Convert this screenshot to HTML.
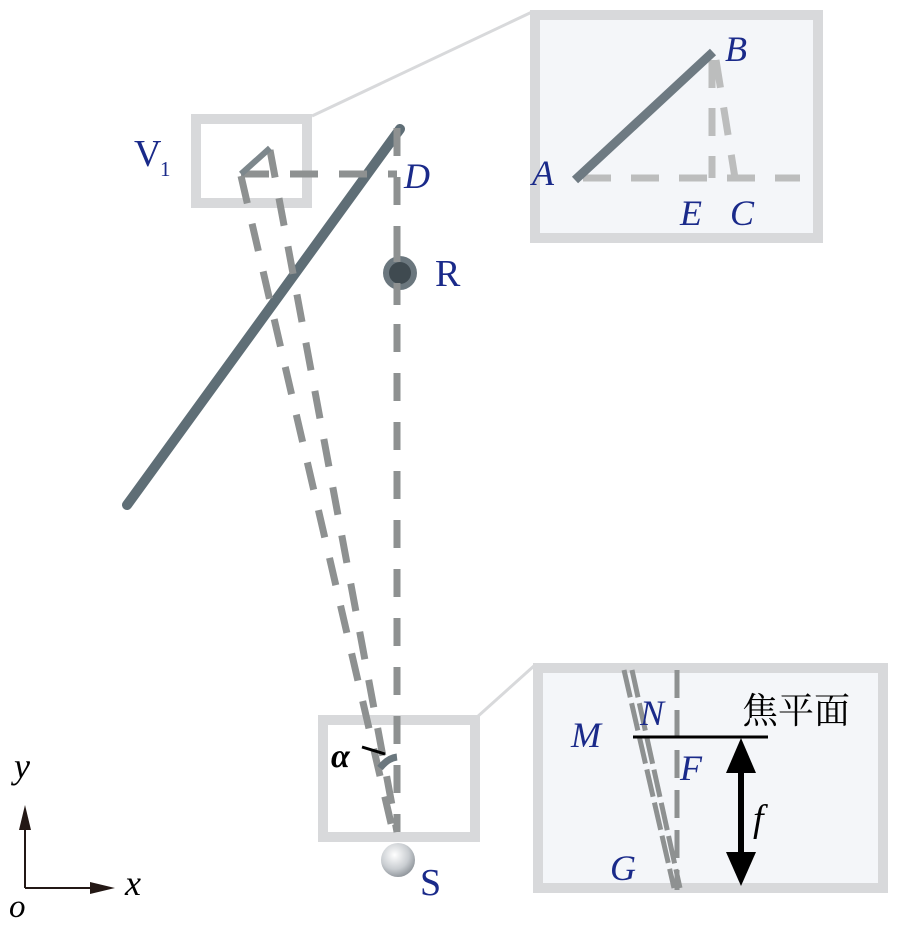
<!DOCTYPE html>
<html><head><meta charset="utf-8"><style>
html,body{margin:0;padding:0;background:#fff;width:900px;height:926px;overflow:hidden}
svg{display:block}
.lab{font-family:"Liberation Serif",serif;font-style:italic;fill:#1a2a8a;font-size:36px}
.labn{font-family:"Liberation Serif",serif;fill:#1a2a8a;font-size:38px}
</style></head><body>
<svg width="900" height="926" viewBox="0 0 900 926">
<defs>
<radialGradient id="sb" cx="0.4" cy="0.35" r="0.7"><stop offset="0" stop-color="#ffffff"/><stop offset="0.6" stop-color="#c9cdd1"/><stop offset="1" stop-color="#8a9096"/></radialGradient>
</defs>
<line x1="312" y1="116" x2="532" y2="12" stroke="#d8d9db" stroke-width="3"/>
<line x1="476" y1="718" x2="535" y2="665" stroke="#d8d9db" stroke-width="3"/>
<rect x="196" y="119" width="111" height="84" fill="none" stroke="#d8d9db" stroke-width="10"/>
<rect x="323" y="720" width="152" height="117" fill="none" stroke="#d8d9db" stroke-width="10"/>
<line x1="400" y1="129" x2="127" y2="505" stroke="#5f6e76" stroke-width="10" stroke-linecap="round"/>
<g stroke="#8e9191" stroke-width="7" fill="none" stroke-dasharray="28 21">
<line x1="397" y1="128" x2="397" y2="832"/>
<line x1="241" y1="174" x2="397" y2="174"/>
<line x1="241" y1="176" x2="393" y2="832"/>
<line x1="270" y1="150" x2="397" y2="832"/>
</g>
<line x1="241" y1="174" x2="270" y2="148" stroke="#7d878c" stroke-width="6"/>
<circle cx="400" cy="273" r="17" fill="#6b777e"/>
<circle cx="400" cy="273" r="11" fill="#3f4a50"/>
<line x1="397" y1="236" x2="397" y2="262" stroke="#8e9191" stroke-width="7"/>
<line x1="397" y1="283" x2="397" y2="305" stroke="#8e9191" stroke-width="7"/>
<circle cx="398" cy="860" r="17" fill="url(#sb)"/>
<path d="M380 768 Q388 758 397 757" stroke="#6b777e" stroke-width="7" fill="none"/>
<line x1="362" y1="747" x2="385" y2="754" stroke="#000" stroke-width="3"/>
<text x="331" y="767" font-family="Liberation Serif,serif" font-style="italic" font-weight="bold" font-size="34">α</text>
<text x="134" y="166" class="labn">V</text><text x="160" y="176" class="labn" style="font-size:21px">1</text>
<text x="404" y="188" class="lab">D</text>
<text x="435" y="286" class="labn">R</text>
<text x="420" y="895" class="labn">S</text>
<rect x="535" y="15" width="283" height="223" fill="#f4f6f9" stroke="#d8d9db" stroke-width="10"/>
<g stroke="#bcbdbd" stroke-width="7" fill="none" stroke-dasharray="28 20">
<line x1="583" y1="178" x2="800" y2="178"/>
<line x1="712" y1="60" x2="712" y2="178"/>
<line x1="716" y1="60" x2="735" y2="178"/>
</g>
<line x1="575" y1="180" x2="713" y2="52" stroke="#6e7a82" stroke-width="9"/>
<text x="532" y="185" class="lab">A</text>
<text x="725" y="61" class="lab">B</text>
<text x="680" y="225" class="lab">E</text>
<text x="730" y="225" class="lab">C</text>
<rect x="538" y="668" width="345" height="220" fill="#f4f6f9" stroke="#d8d9db" stroke-width="10"/>
<g stroke="#8e9191" stroke-width="5" fill="none" stroke-dasharray="28 6">
<line x1="624" y1="670" x2="674" y2="888"/>
<line x1="632" y1="670" x2="680" y2="888"/>
</g>
<line x1="677" y1="670" x2="677" y2="890" stroke="#8e9191" stroke-width="5" stroke-dasharray="28 12"/>
<line x1="633" y1="737" x2="768" y2="737" stroke="#000" stroke-width="3"/>
<line x1="741" y1="760" x2="741" y2="862" stroke="#000" stroke-width="6"/>
<polygon points="741,738 726,773 756,773" fill="#000"/>
<polygon points="741,886 726,852 756,852" fill="#000"/>
<text x="571" y="747" class="lab">M</text>
<text x="640" y="725" class="lab">N</text>
<text x="680" y="780" class="lab">F</text>
<text x="610" y="880" class="lab">G</text>
<text x="753" y="831" font-family="Liberation Serif,serif" font-style="italic" font-size="38">f</text>
<text x="742" y="723" font-family="Liberation Sans,'Noto Serif CJK SC','Noto Sans CJK SC',sans-serif" font-size="36">焦平面</text>
<line x1="25" y1="888" x2="25" y2="822" stroke="#231815" stroke-width="2"/>
<polygon points="25,805 19,830 31,830" fill="#231815"/>
<line x1="25" y1="888" x2="95" y2="888" stroke="#231815" stroke-width="2"/>
<polygon points="115,888 90,882 90,894" fill="#231815"/>
<text x="14" y="778" font-family="Liberation Serif,serif" font-style="italic" font-size="36">y</text>
<text x="125" y="895" font-family="Liberation Serif,serif" font-style="italic" font-size="36">x</text>
<text x="9" y="917" font-family="Liberation Serif,serif" font-style="italic" font-size="33">o</text>
</svg>
</body></html>
